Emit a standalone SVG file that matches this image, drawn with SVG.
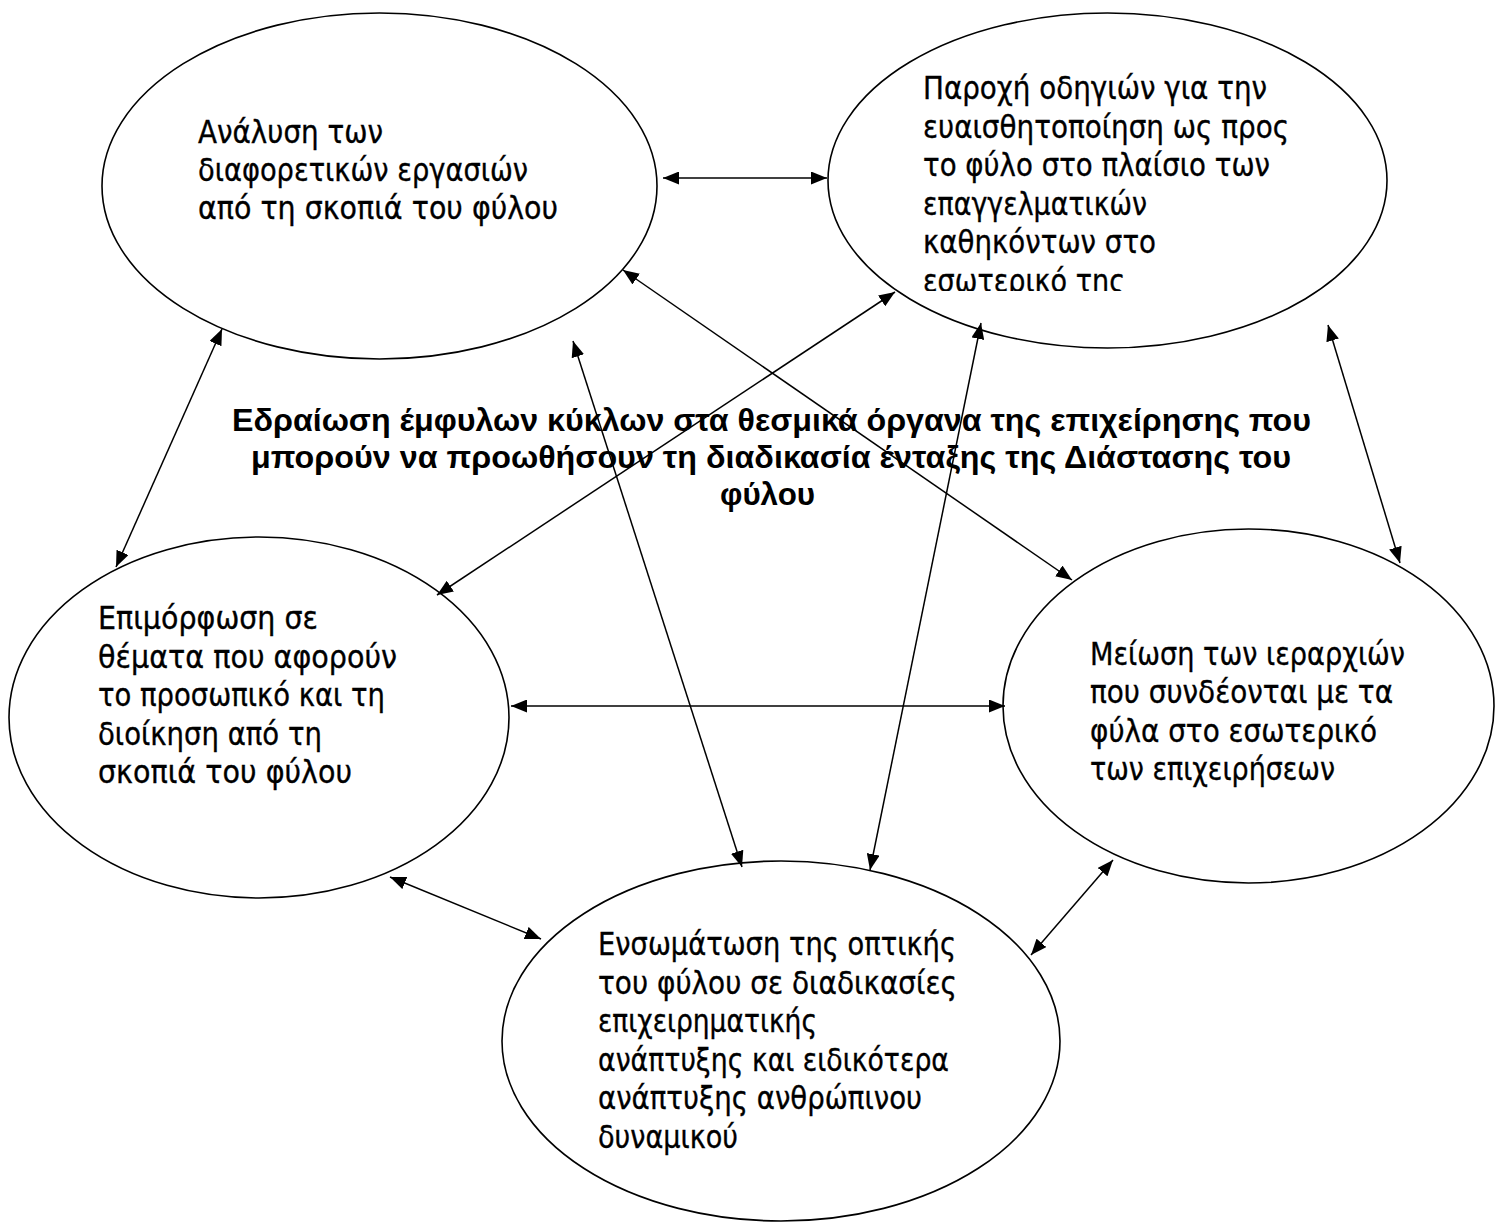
<svg xmlns="http://www.w3.org/2000/svg" width="1505" height="1222" viewBox="0 0 1505 1222">
<style>
.bg{fill:#fff}
.node{fill:#fff;stroke:#000;stroke-width:1.6}
.t{font-family:"DejaVu Sans",Verdana,sans-serif;font-size:31.5px;fill:#000;stroke:#000;stroke-width:0.35}
.c{font-family:"Liberation Sans",Arial,sans-serif;font-weight:bold;font-size:31.5px;fill:#000;text-anchor:middle}
.edge{stroke:#000;stroke-width:1.5;fill:none;marker-start:url(#ah);marker-end:url(#ah)}
</style>
<defs>
<marker id="ah" viewBox="0 0 16 13" refX="16" refY="6.5" markerWidth="16" markerHeight="13" markerUnits="userSpaceOnUse" orient="auto-start-reverse">
<path d="M0,0 L16,6.5 L0,13 z" fill="#000"/>
</marker>
<clipPath id="clipB"><rect x="900" y="0" width="500" height="291"/></clipPath>
</defs>
<rect class="bg" x="0" y="0" width="1505" height="1222"/>

<g id="node-analysis">
<ellipse class="node" cx="379.5" cy="186" rx="277.5" ry="173"/>
<text class="t" x="198" y="143" textLength="185" lengthAdjust="spacingAndGlyphs">Ανάλυση των</text>
<text class="t" x="198" y="181" textLength="330" lengthAdjust="spacingAndGlyphs">διαφορετικών εργασιών</text>
<text class="t" x="198" y="219" textLength="360" lengthAdjust="spacingAndGlyphs">από τη σκοπιά του φύλου</text>
</g>

<g id="node-guidelines">
<ellipse class="node" cx="1107.5" cy="180.5" rx="279.5" ry="167.5"/>
<text class="t" x="923" y="99" textLength="344" lengthAdjust="spacingAndGlyphs">Παροχή οδηγιών για την</text>
<text class="t" x="923" y="137.5" textLength="366" lengthAdjust="spacingAndGlyphs">ευαισθητοποίηση ως προς</text>
<text class="t" x="923" y="176" textLength="347" lengthAdjust="spacingAndGlyphs">το φύλο στο πλαίσιο των</text>
<text class="t" x="923" y="214.5" textLength="224" lengthAdjust="spacingAndGlyphs">επαγγελματικών</text>
<text class="t" x="923" y="253" textLength="233" lengthAdjust="spacingAndGlyphs">καθηκόντων στο</text>
<text class="t" x="923" y="291.5" textLength="202" lengthAdjust="spacingAndGlyphs" clip-path="url(#clipB)">εσωτερικό της</text>
</g>

<g id="node-training">
<ellipse class="node" cx="259" cy="717.5" rx="250" ry="180.5"/>
<text class="t" x="98" y="629" textLength="220" lengthAdjust="spacingAndGlyphs">Επιμόρφωση σε</text>
<text class="t" x="98" y="667.5" textLength="299" lengthAdjust="spacingAndGlyphs">θέματα που αφορούν</text>
<text class="t" x="98" y="706" textLength="287" lengthAdjust="spacingAndGlyphs">το προσωπικό και τη</text>
<text class="t" x="98" y="744.5" textLength="224" lengthAdjust="spacingAndGlyphs">διοίκηση από τη</text>
<text class="t" x="98" y="783" textLength="254" lengthAdjust="spacingAndGlyphs">σκοπιά του φύλου</text>
</g>

<g id="node-hierarchies">
<ellipse class="node" cx="1248.5" cy="706" rx="245.5" ry="177"/>
<text class="t" x="1090" y="665" textLength="315" lengthAdjust="spacingAndGlyphs">Μείωση των ιεραρχιών</text>
<text class="t" x="1090" y="703" textLength="303" lengthAdjust="spacingAndGlyphs">που συνδέονται με τα</text>
<text class="t" x="1090" y="742" textLength="287" lengthAdjust="spacingAndGlyphs">φύλα στο εσωτερικό</text>
<text class="t" x="1090" y="780" textLength="245" lengthAdjust="spacingAndGlyphs">των επιχειρήσεων</text>
</g>

<g id="node-integration">
<ellipse class="node" cx="781" cy="1041" rx="279" ry="180"/>
<text class="t" x="598" y="955" textLength="358" lengthAdjust="spacingAndGlyphs">Ενσωμάτωση της οπτικής</text>
<text class="t" x="598" y="993.5" textLength="359" lengthAdjust="spacingAndGlyphs">του φύλου σε διαδικασίες</text>
<text class="t" x="598" y="1032" textLength="219" lengthAdjust="spacingAndGlyphs">επιχειρηματικής</text>
<text class="t" x="598" y="1070.5" textLength="351" lengthAdjust="spacingAndGlyphs">ανάπτυξης και ειδικότερα</text>
<text class="t" x="598" y="1109" textLength="324" lengthAdjust="spacingAndGlyphs">ανάπτυξης ανθρώπινου</text>
<text class="t" x="598" y="1147.5" textLength="140" lengthAdjust="spacingAndGlyphs">δυναμικού</text>
</g>

<g id="center-title">
<text class="c" x="771.5" y="431" textLength="1079" lengthAdjust="spacingAndGlyphs">Εδραίωση έμφυλων κύκλων στα θεσμικά όργανα της επιχείρησης που</text>
<text class="c" x="771" y="468" textLength="1040" lengthAdjust="spacingAndGlyphs">μπορούν να προωθήσουν τη διαδικασία ένταξης της Διάστασης του</text>
<text class="c" x="767.5" y="505" textLength="95" lengthAdjust="spacingAndGlyphs">φύλου</text>
</g>

<g id="connectors">
<line class="edge" x1="663" y1="178" x2="827" y2="178"/>
<line class="edge" x1="222" y1="329" x2="116" y2="567"/>
<line class="edge" x1="623" y1="270" x2="1072" y2="580"/>
<line class="edge" x1="573" y1="341" x2="742" y2="867"/>
<line class="edge" x1="895" y1="292" x2="437" y2="595"/>
<line class="edge" x1="981" y1="323" x2="870" y2="870"/>
<line class="edge" x1="1328" y1="325" x2="1400" y2="563"/>
<line class="edge" x1="511" y1="706" x2="1005" y2="706"/>
<line class="edge" x1="390" y1="877" x2="541" y2="939"/>
<line class="edge" x1="1113" y1="860" x2="1031" y2="955"/>
</g>
</svg>
